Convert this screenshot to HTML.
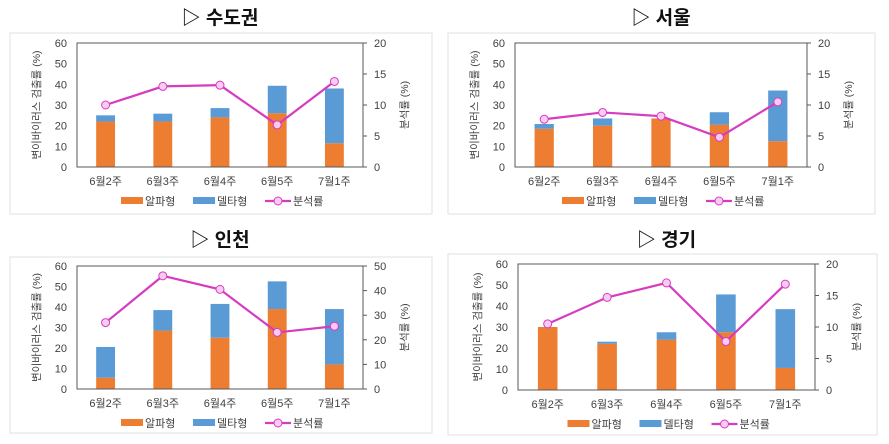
<!DOCTYPE html>
<html><head><meta charset="utf-8"><style>
html,body{margin:0;padding:0;background:#fff;}
svg{display:block;font-family:"Liberation Sans","Noto Sans CJK KR",sans-serif;}
</style></head><body>
<svg id="c" width="889" height="444" viewBox="0 0 889 444"></svg>
<script>
const categories = ["6월2주","6월3주","6월4주","6월5주","7월1주"];
const titles = ["수도권","서울","인천","경기"];
const alpha1 = [22,22,24,26,11.5];
const delta1 = [3,3.8,4.5,13.3,26.5];
const rate1 = [10,13,13.2,6.8,13.8];
const alpha2 = [18.5,20,23.5,20.5,12.5];
const delta2 = [2.3,3.5,0,6,24.5];
const rate2 = [7.7,8.8,8.2,4.8,10.5];
const alpha3 = [5.5,28.5,25,39,12];
const delta3 = [15,10,16.5,13.5,27];
const rate3 = [27,46,40.5,23,25.5];
const alpha4 = [30,22,24,27.5,10.5];
const delta4 = [0,1,3.5,18,28];
const rate4 = [10.5,14.7,17,7.7,16.8];
const leftTicks = [0,10,20,30,40,50,60];
const rightTicks20 = [0,5,10,15,20];
const rightTicks50 = [0,10,20,30,40,50];

const NS="http://www.w3.org/2000/svg";
const svg=document.getElementById('c');
function mk(tag,attrs,parent,txt){const e=document.createElementNS(NS,tag);for(const k in attrs)e.setAttribute(k,attrs[k]);if(txt!==undefined)e.textContent=txt;(parent||svg).appendChild(e);return e;}

const panels=[
 {title:titles[0],alpha:alpha1,delta:delta1,rate:rate1,rt:rightTicks20,box:[10,33,422,181],plot:[77,43,363,167],ty:17,slug:"capital"},
 {title:titles[1],alpha:alpha2,delta:delta2,rate:rate2,rt:rightTicks20,box:[448,33,427,181],plot:[515,43,807,167],ty:17,slug:"seoul"},
 {title:titles[2],alpha:alpha3,delta:delta3,rate:rate3,rt:rightTicks50,box:[10,257,422,176],plot:[77,266,363,389],ty:239,slug:"incheon"},
 {title:titles[3],alpha:alpha4,delta:delta4,rate:rate4,rt:rightTicks20,box:[448,254,429,181],plot:[518,264,815,390],ty:239,slug:"gyeonggi"}
];

panels.forEach(p=>{
 const g=mk('g',{});
 
 
 const [L,T,R,B]=p.plot;
 const cx=(L+R)/2;
 const t=mk('text',{x:cx,y:p.ty+7,'text-anchor':'middle','font-size':19,'font-weight':'bold',fill:'#111'},g,'▷ '+p.title);
 
 
 const bx=mk('rect',{x:p.box[0],y:p.box[1],width:p.box[2],height:p.box[3],fill:'#fff',stroke:'#e2e2e2','stroke-width':1},g);
 
 
 const rmax=p.rt[p.rt.length-1];
 const yL=v=>B-(v/60)*(B-T);
 const yR=v=>B-(v/rmax)*(B-T);
 const band=(R-L)/categories.length;
 const xC=i=>L+band*(i+0.5);
 const bw=band*0.33;
 leftTicks.forEach(v=>{
  const e=mk('text',{x:L-10,y:yL(v)+4,'text-anchor':'end','font-size':11,fill:'#404040'},g,String(v));
  
  
 });
 p.rt.forEach(v=>{
  const e=mk('text',{x:R+11,y:yR(v)+4,'text-anchor':'start','font-size':11,fill:'#404040'},g,String(v));
  
  
  mk('line',{x1:R,x2:R+4,y1:yR(v),y2:yR(v),stroke:'#595959'},g);
 });
 categories.forEach((c,i)=>{
  const a=mk('rect',{x:xC(i)-bw/2,y:yL(p.alpha[i]),width:bw,height:B-yL(p.alpha[i]),fill:'#ED7D31'},g);
  
  
  const top=p.alpha[i]+p.delta[i];
  const d=mk('rect',{x:xC(i)-bw/2,y:yL(top),width:bw,height:yL(p.alpha[i])-yL(top),fill:'#5B9BD5'},g);
  
  
  const xl=mk('text',{x:xC(i),y:B+18,'text-anchor':'middle','font-size':11,fill:'#404040'},g,c);
  
  
 });
 const fr=mk('rect',{x:L,y:T,width:R-L,height:B-T,fill:'none',stroke:'#595959','stroke-width':1},g);
 
 
 const pts=p.rate.map((v,i)=>xC(i)+','+yR(v)).join(' ');
 const pl=mk('polyline',{points:pts,fill:'none',stroke:'#D63CC0','stroke-width':2.2},g);
 
 
 p.rate.forEach((v,i)=>{
  const m=mk('circle',{cx:xC(i),cy:yR(v),r:4,fill:'#F7CCF0',stroke:'#D63CC0','stroke-width':1},g);
  
  
 });
 const ly=(T+B)/2;
 const yt=mk('text',{x:0,y:0,transform:`translate(${L-37},${ly}) rotate(-90)`,'text-anchor':'middle','font-size':10.5,fill:'#404040'},g,'변이바이러스 검출률 (%)');
 
 
 const yr=mk('text',{x:0,y:0,transform:`translate(${R+45},${ly}) rotate(-90)`,'text-anchor':'middle','font-size':10.5,fill:'#404040'},g,'분석률 (%)');
 
 
 const lgY=B+34, lx=cx-99;
 const lg=mk('g',{},g);
 
 
 mk('rect',{x:lx,y:lgY-4,width:22,height:7,fill:'#ED7D31'},lg);
 mk('text',{x:lx+24,y:lgY+4,'font-size':11,fill:'#404040'},lg,'알파형');
 mk('rect',{x:lx+72,y:lgY-4,width:22,height:7,fill:'#5B9BD5'},lg);
 mk('text',{x:lx+96,y:lgY+4,'font-size':11,fill:'#404040'},lg,'델타형');
 mk('line',{x1:lx+144,x2:lx+170,y1:lgY,y2:lgY,stroke:'#D63CC0','stroke-width':2.2},lg);
 mk('circle',{cx:lx+157,cy:lgY,r:4,fill:'#F7CCF0',stroke:'#D63CC0'},lg);
 mk('text',{x:lx+172,y:lgY+4,'font-size':11,fill:'#404040'},lg,'분석률');
});
</script>
</body></html>
